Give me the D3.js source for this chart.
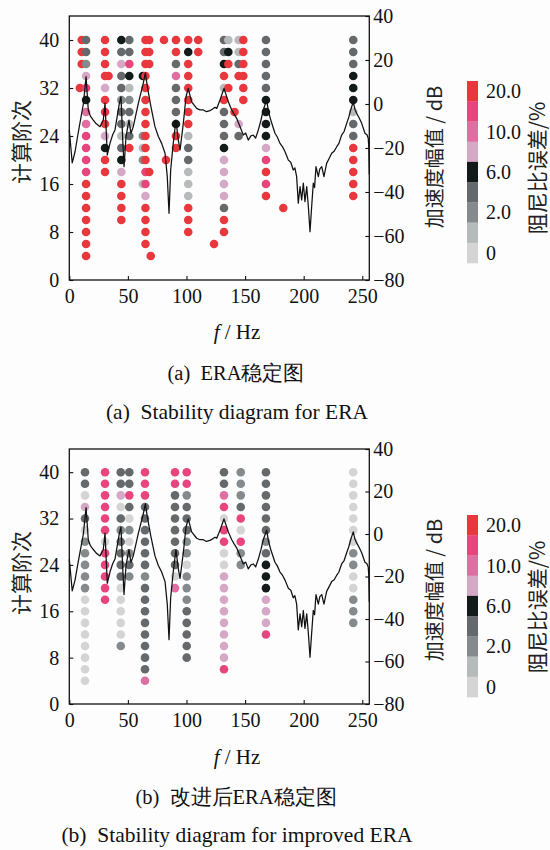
<!DOCTYPE html>
<html><head><meta charset="utf-8">
<script src="https://cdn.jsdelivr.net/npm/d3@7"></script>
<style>
html,body{margin:0;padding:0;background:#fdfdfd;}
text{white-space:pre;}
</style></head>
<body><div id="chart"></div>
<script>
// ---------- data ----------
const orderTicks = [0, 8, 16, 24, 32, 40];
const dbTicks = [-80, -60, -40, -20, 0, 20, 40];
const freqTicks = [0, 50, 100, 150, 200, 250];
const legendLabels = ["20.0", "", "10.0", "", "6.0", "", "2.0", "", "0"];
// colour classes 0..8 (0 = lightest grey, 8 = red)
const classColors = ["#d4d4d4", "#b6babb", "#858a8c", "#66696c", "#121a1a", "#d5a8c6", "#df6fa2", "#e8457f", "#e8383d"];

// ERA stability diagram: column frequency, highest order, classes per order going down by 2 ('.' = none)
const eraFreq  = [9, 10.6, 14.3, 30.5, 33.5, 44.4, 51.2, 62.8, 65, 68.2, 69.5, 80.8, 82.5, 91, 101.5, 110, 123.5, 132, 135.7, 141, 144.5, 148.5, 167.8, 182.6, 242.3];
const eraStart = [32, 40, 40, 40, 34, 40, 40, 34, 40, 40, 4, 40, 20, 40, 40, 40, 6, 40, 40, 28, 40, 40, 40, 12, 40];
const eraCodes = ["8", "888", "3325746677778888888", "888858885488", "8", "4353323313458888", "3374123138",
  "4....212.1", "888888888887758888", "888........8", "8", "8", "8", "8836333488", "84888888133111888", "88", "8",
  "33481833345555388", "148.8", "8", "1138...53", "888888", "33333444457878", "8", "33344413388888"];

// improved ERA stability diagram
const impFreq  = [13.4, 30.5, 43.9, 51.2, 64.6, 90.2, 100.2, 132, 146.3, 167.8, 242.3];
const impStart = [40, 40, 40, 40, 40, 40, 40, 40, 40, 40, 40];
const impCodes = ["3305302222200000000", "777777077777", "3350323333000002", "3373020232", "7773333332333333336",
  "77333333306", "77233322022233333", "336707700555555557", "222370722", "333333234445557", "00000002200222"];

// acceleration amplitude curve (Hz, dB)
const curveHz = [0, 2.5, 4.9, 7, 9.1, 12, 14.3, 16.2, 18, 20.5, 23, 26.2, 29, 30.5, 32.4, 34.7, 37, 39, 42.7, 44.1, 45.6, 46.7, 48.4, 50.9, 52.6, 54.6, 58.9, 63.1, 64.9, 66.6, 69.4, 73.1, 76, 78.8, 81.7, 83.6, 85.1, 86.5, 88.7, 91, 93, 94.5, 97.3, 99.6, 101.5, 104.4, 108.7, 111.5, 114.4, 117, 120, 122, 124.3, 125.8, 128.6, 132, 135.7, 138.6, 140.5, 142.8, 145.7, 148.5, 150.5, 152.7, 155, 157, 159, 161.3, 163.5, 165.5, 168.4, 170, 171.9, 175.5, 177.5, 179.8, 182, 184.1, 186.9, 189, 191.1, 192.5, 194, 195.4, 196.9, 198.3, 199.7, 201.1, 202.6, 204, 205.4, 206.8, 208.2, 209.3, 210.5, 212.5, 213.8, 215.4, 217.3, 219.6, 221.5, 223.9, 226, 228.2, 230, 232.4, 234.5, 236.7, 238.5, 240.1, 242.3, 243.8, 245.2, 247.5, 249.5, 252.3, 254, 255.1, 255.6, 256];
const curveDb = [-11.8, -26.8, -21.7, -15, -8.6, 0, 12.4, -2.7, -5.5, -7.3, -9, -10.3, -7.3, 0.4, -23.2, -17.9, -14, -11.8, 0.3, 3.3, -16.4, -28.5, -14.8, -7.3, -13.3, -10.3, 0.3, 9.4, 14.2, 7.9, -0.5, -10.3, -14.8, -17.9, -22.4, -33, -49.7, -30, -17.9, -7.3, -16.4, -20.9, -8.8, 3.3, 7.1, 1, -2, -2.7, -2.7, -3.5, -3, -2.4, -1.5, -2, 1.8, 7.1, 1, -2.7, -4.5, -6.5, -10.3, -14.1, -13.2, -16.4, -14.5, -14.1, -15.5, -11.8, -7.5, -2.7, 1.8, -3.5, -7.3, -13.3, -15, -17.9, -19.5, -21.7, -25.5, -26.5, -30, -29, -33, -45.1, -37.6, -43.6, -36, -44.4, -37.6, -46.7, -58, -46.7, -36, -38, -28.5, -33, -29.5, -28.5, -33, -27, -25, -22.4, -21.5, -19.4, -18, -14.1, -12.5, -8.8, -6, -2.7, 1, -2.5, -4.2, -6.5, -8.8, -13.3, -14, -15.6, -20, -32];

// ---------- drawing ----------
const W = 550, H = 850;
const svg = d3.select("#chart").append("svg").attr("width", W).attr("height", H);
svg.append("rect").attr("width", W).attr("height", H).attr("fill", "#fdfdfd");

const SERIF = "'Liberation Serif', 'Times New Roman', serif";
const CJK = "'Noto Sans CJK SC', sans-serif";

const panels = [
  { top: 16, bottom: 280, freq: eraFreq, start: eraStart, codes: eraCodes,
    cbTop: 81, cbBottom: 263, leftLabelY: 142, rightLabelY: 157, cbLabelY: 168,
    xTitleY: 332, cap1Y: 373, cap2Y: 411,
    cap1: "(a)  ERA稳定图", cap2: "(a)  Stability diagram for ERA" },
  { top: 449, bottom: 704, freq: impFreq, start: impStart, codes: impCodes,
    cbTop: 515, cbBottom: 697, leftLabelY: 573, rightLabelY: 590, cbLabelY: 607,
    xTitleY: 757, cap1Y: 797, cap2Y: 834,
    cap1: "(b)  改进后ERA稳定图", cap2: "(b)  Stability diagram for improved ERA" }
];

const xLeft = 69.3, xRight = 369.3;
const x = d3.scaleLinear().domain([0, 256]).range([xLeft, xRight]);

panels.forEach(p => {
  const yO = d3.scaleLinear().domain([0, 44]).range([p.bottom, p.top]);
  const yD = d3.scaleLinear().domain([-80, 40]).range([p.bottom, p.top]);
  const g = svg.append("g");

  // dots
  const pts = [];
  p.codes.forEach((s, i) => {
    for (let k = 0; k < s.length; k++) {
      if (s[k] === ".") continue;
      pts.push({ f: p.freq[i], o: p.start[i] - 2 * k, c: +s[k] });
    }
  });
  g.selectAll("circle.dot").data(pts).enter().append("circle")
    .attr("class", "dot")
    .attr("cx", d => x(d.f)).attr("cy", d => yO(d.o)).attr("r", 4.3)
    .attr("fill", d => classColors[d.c]);

  // curve
  const line = d3.line().x(d => x(d[0])).y(d => yD(d[1]));
  g.append("path").datum(curveHz.map((f, i) => [f, curveDb[i]]))
    .attr("d", line).attr("fill", "none").attr("stroke", "#111")
    .attr("stroke-width", 1.25).attr("stroke-linejoin", "round");

  // axes
  const ax = d3.axisBottom(x).tickValues(freqTicks).tickSize(-4).tickPadding(9);
  const gx = g.append("g").attr("transform", `translate(0,${p.bottom})`).call(ax);
  const ayl = d3.axisLeft(yO).tickValues(orderTicks).tickSize(-4).tickPadding(10);
  const gyl = g.append("g").attr("transform", `translate(${xLeft},0)`).call(ayl);
  const ayr = d3.axisRight(yD).tickValues(dbTicks).tickSize(-4).tickPadding(8);
  const gyr = g.append("g").attr("transform", `translate(${xRight},0)`).call(ayr);
  [gx, gyl, gyr].forEach(a => {
    a.select(".domain").remove();
    a.selectAll("line").attr("stroke", "#111").attr("stroke-width", 1.1);
    a.selectAll("text").attr("font-family", SERIF).attr("font-size", 20).attr("fill", "#111");
  });
  gyr.selectAll("text").attr("x", 4);
  // frame
  g.append("rect").attr("x", xLeft).attr("y", p.top).attr("width", xRight - xLeft)
    .attr("height", p.bottom - p.top).attr("fill", "none").attr("stroke", "#111").attr("stroke-width", 1.3);

  // axis titles
  g.append("text").attr("transform", `translate(29,${p.leftLabelY}) rotate(-90)`)
    .attr("text-anchor", "middle").attr("font-family", CJK).attr("font-size", 21).attr("fill", "#222")
    .text("计算阶次");
  g.append("text").attr("transform", `translate(442,${p.rightLabelY}) rotate(-90)`)
    .attr("text-anchor", "middle").attr("font-family", CJK).attr("font-size", 20).attr("fill", "#222")
    .text("加速度幅值 / dB");
  const xt = g.append("text").attr("x", 237).attr("y", p.xTitleY).attr("dy", "0.35em")
    .attr("text-anchor", "middle").attr("font-family", SERIF).attr("font-size", 21).attr("fill", "#111");
  xt.append("tspan").attr("font-style", "italic").text("f");
  xt.append("tspan").text(" / Hz");

  // colour bar
  const segH = (p.cbBottom - p.cbTop) / 9;
  const cbOrder = d3.range(8, -1, -1);
  g.selectAll("rect.cb").data(cbOrder).enter().append("rect").attr("class", "cb")
    .attr("x", 467).attr("y", (d, i) => p.cbTop + i * segH).attr("width", 11).attr("height", segH + 0.3)
    .attr("fill", d => classColors[d]);
  g.selectAll("text.cbl").data(legendLabels).enter().append("text").attr("class", "cbl")
    .attr("x", 486).attr("y", (d, i) => p.cbTop + (i + 0.5) * segH).attr("dy", "0.35em")
    .attr("font-family", SERIF).attr("font-size", 20).attr("fill", "#111").text(d => d);
  g.append("text").attr("transform", `translate(545,${p.cbLabelY}) rotate(-90)`)
    .attr("text-anchor", "middle").attr("font-family", CJK).attr("font-size", 21).attr("fill", "#222")
    .text("阻尼比误差/%");

  // captions
  g.append("text").attr("x", 236).attr("y", p.cap1Y).attr("dy", "0.35em").attr("text-anchor", "middle")
    .attr("font-family", SERIF).attr("font-size", 20.5).attr("fill", "#111").text(p.cap1);
  g.append("text").attr("x", 237).attr("y", p.cap2Y).attr("dy", "0.35em").attr("text-anchor", "middle")
    .attr("font-family", SERIF).attr("font-size", 21.5).attr("fill", "#111").text(p.cap2);
});
</script>
</body></html>
